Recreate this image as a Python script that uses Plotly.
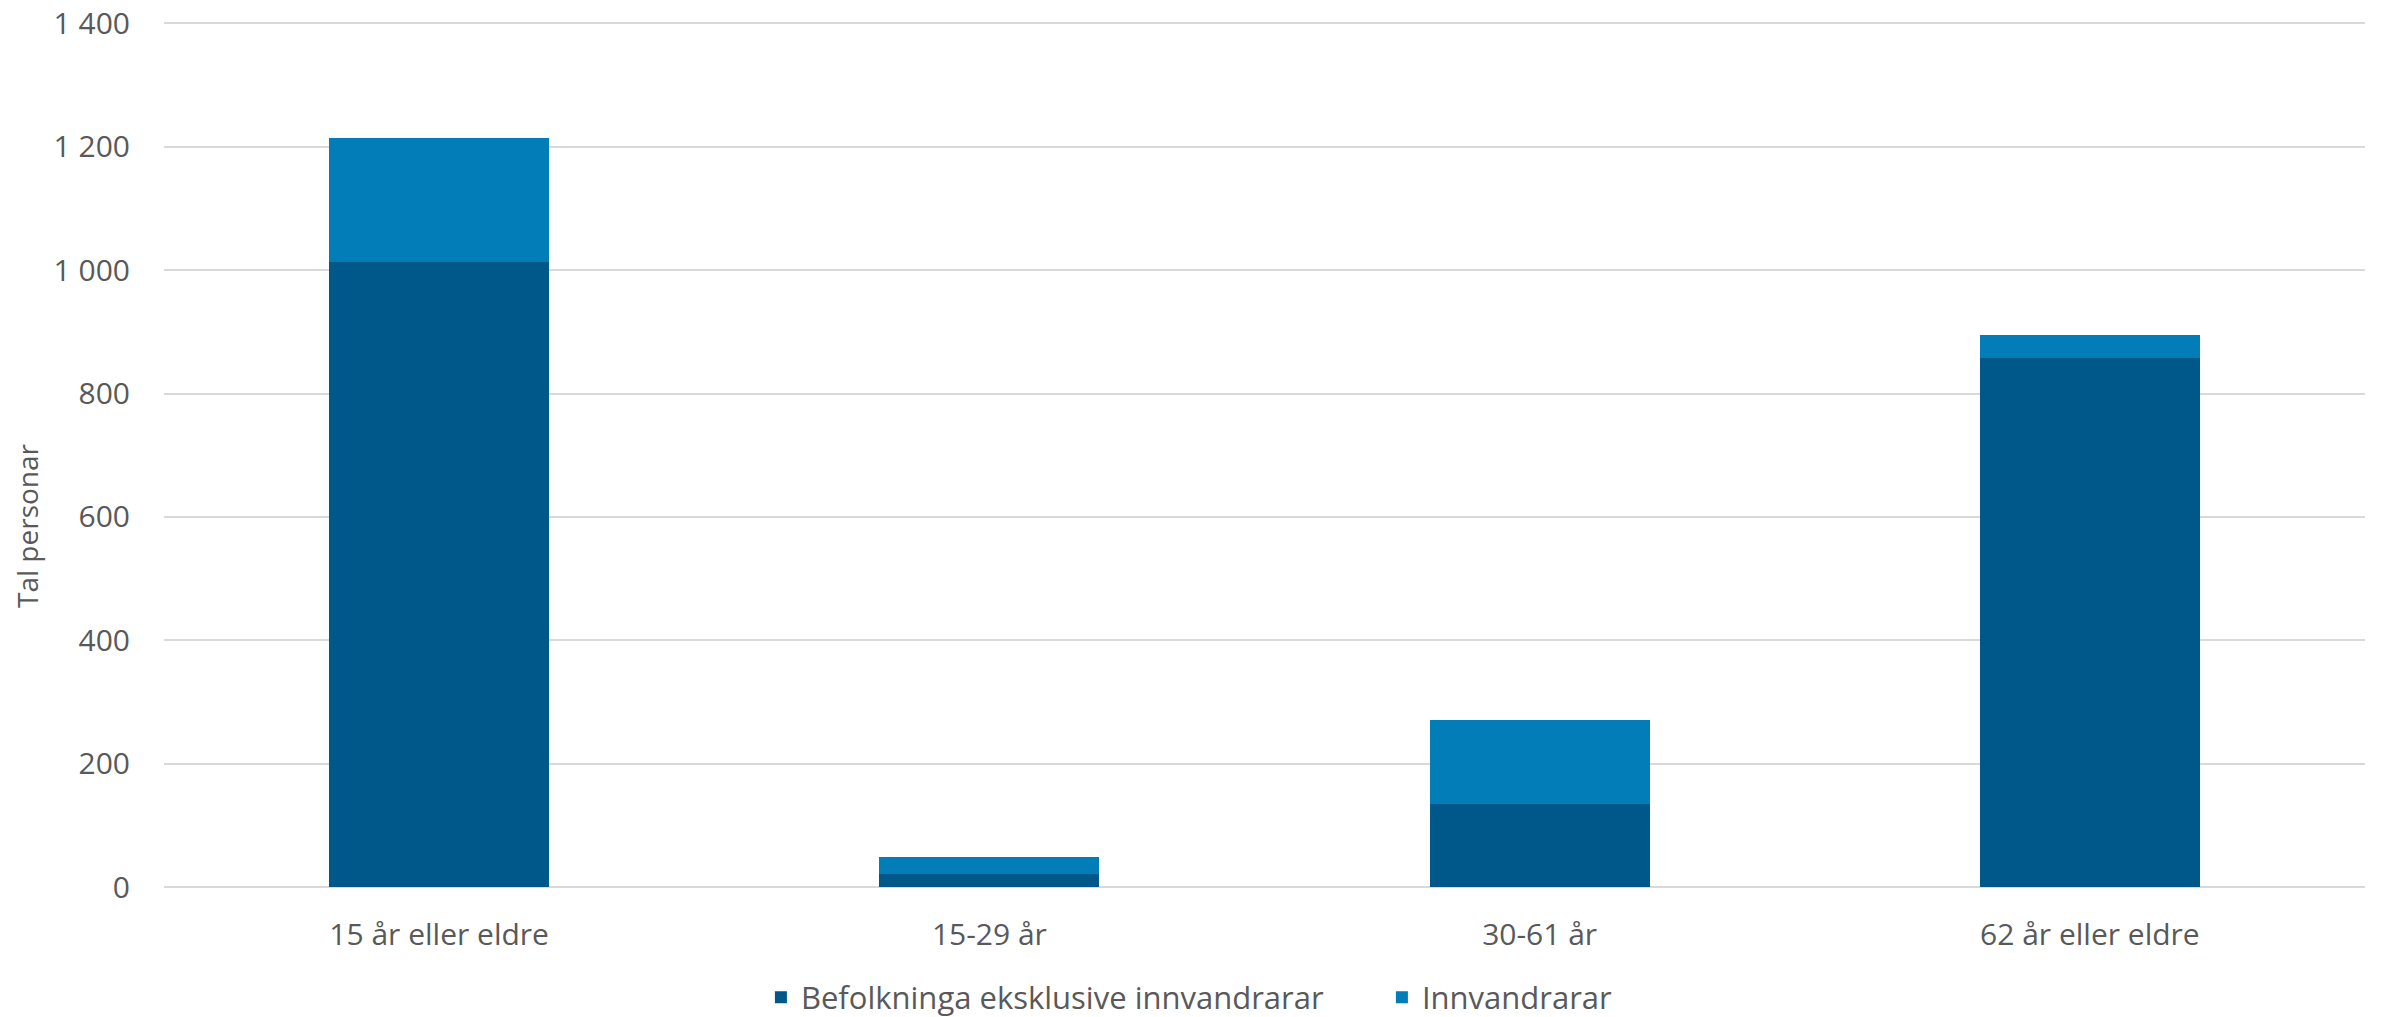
import plotly.graph_objects as go

categories = ["15 år eller eldre", "15-29 år", "30-61 år", "62 år eller eldre"]
befolkning_eksl = [1013, 21, 135, 857]
innvandrarar = [201, 27, 135, 38]
series_names = ["Befolkninga eksklusive innvandrarar", "Innvandrarar"]
y_ticks = [0, 200, 400, 600, 800, 1000, 1200, 1400]
y_title = "Tal personar"

FONT = "Open Sans"
GREY = "#595959"

fig = go.Figure()
fig.add_trace(go.Bar(x=categories, y=befolkning_eksl, name=series_names[0],
                     marker=dict(color="#00588A", line=dict(width=0))))
fig.add_trace(go.Bar(x=categories, y=innvandrarar, name=series_names[1],
                     marker=dict(color="#027DB8", line=dict(width=0))))

fig.update_layout(
    barmode="stack",
    bargap=0.6,
    width=2382, height=1017,
    margin=dict(l=164, r=17, t=21, b=130, autoexpand=False),
    paper_bgcolor="white", plot_bgcolor="white",
    separators=", ",
    font=dict(family=FONT, color=GREY, size=30),
    legend=dict(orientation="h", x=0.2712, xanchor="left",
                yref="container", y=0.019, yanchor="middle",
                entrywidth=576, entrywidthmode="pixels",
                font=dict(size=31, color=GREY), itemwidth=30, traceorder="normal"),
    showlegend=True,
)
fig.add_annotation(text=y_title, textangle=-90, xref="paper", yref="paper",
                   x=-0.0622, y=0.417, xanchor="center", yanchor="middle",
                   showarrow=False, font=dict(size=28, color=GREY))
fig.update_yaxes(range=[0, 1404], tickvals=y_ticks, tickformat=",d", automargin=False,
                 showgrid=True, gridcolor="#D9D9D9", gridwidth=1.5,
                 zeroline=True, zerolinecolor="#D9D9D9", zerolinewidth=1.5,
                 ticks="", ticklabelstandoff=33, tickfont=dict(size=30, color=GREY))
fig.update_xaxes(showline=False, ticks="", tickfont=dict(size=30, color=GREY),
                 automargin=False, ticklabelstandoff=27)

fig.write_html("out.html", config={"displayModeBar": False},
               post_script="document.body.style.margin='0';")
